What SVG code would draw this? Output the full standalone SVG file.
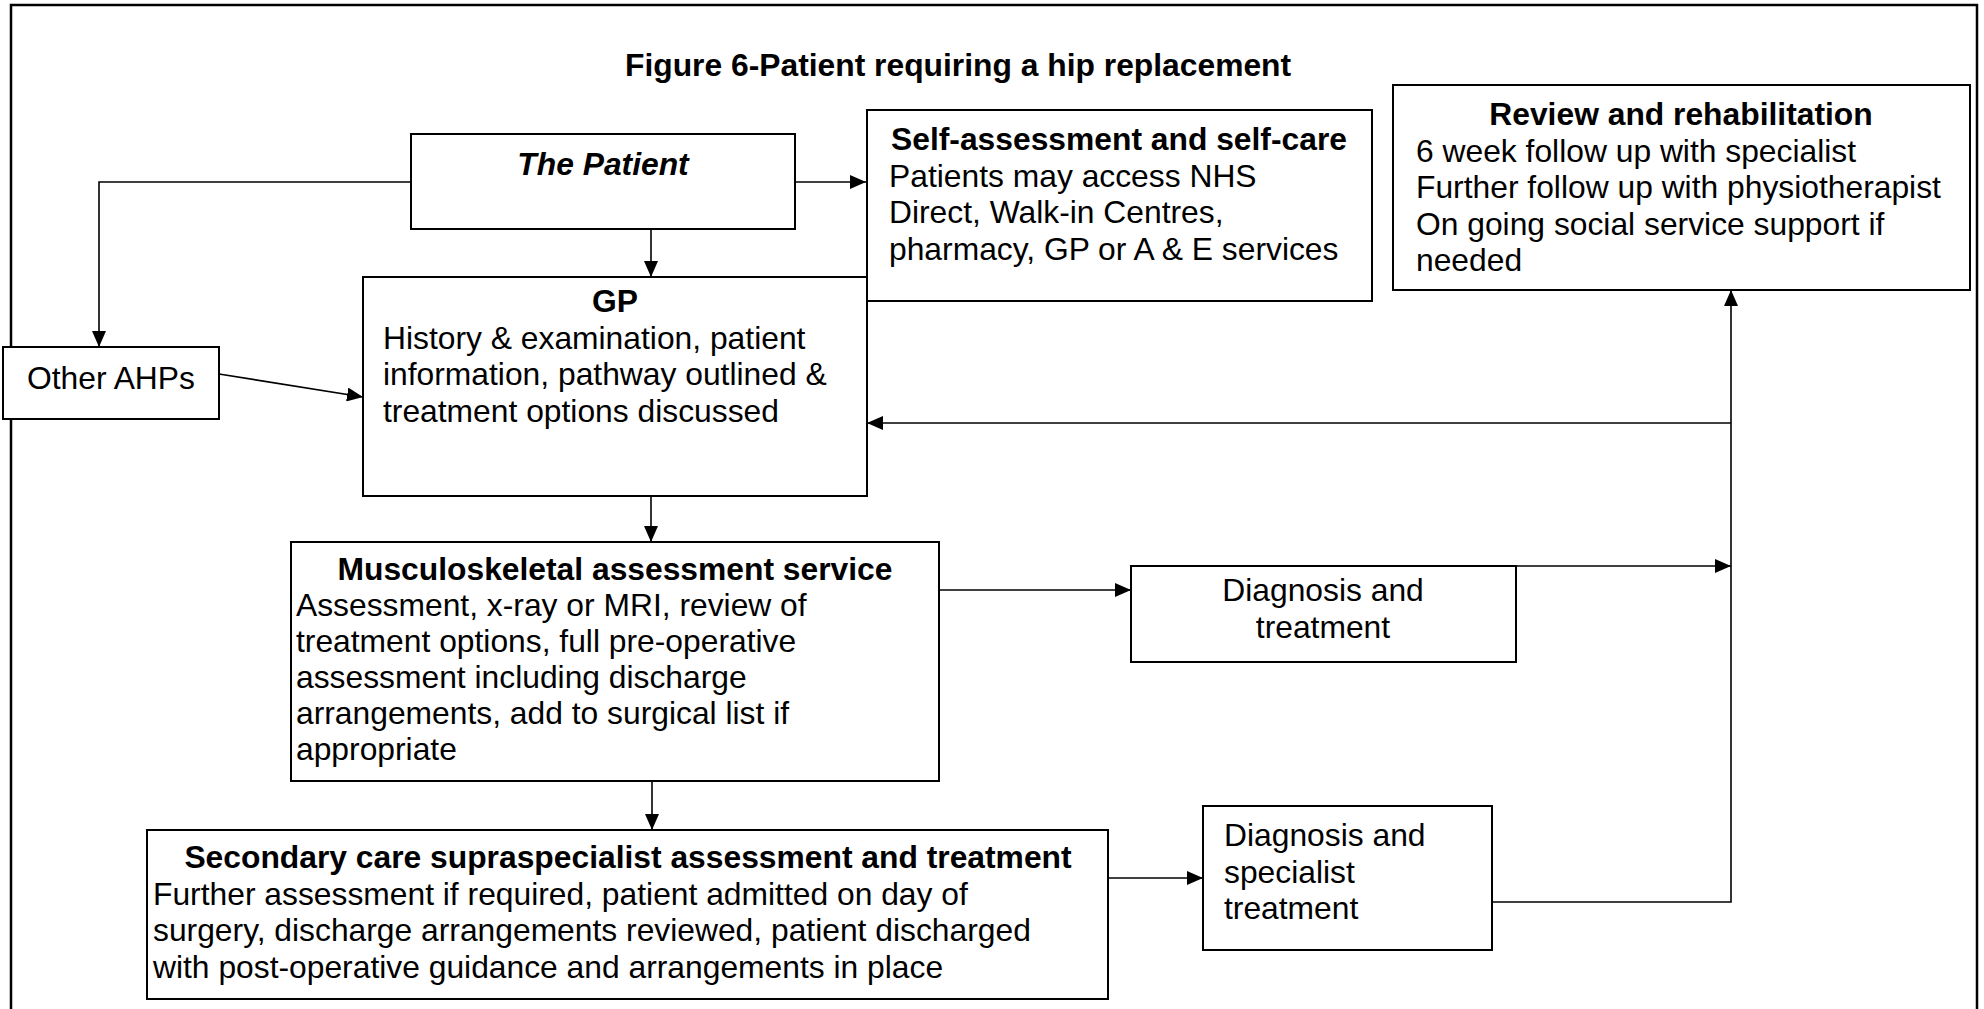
<svg xmlns="http://www.w3.org/2000/svg" width="1984" height="1009" viewBox="0 0 1984 1009">
  <style>
    text { font-family: "Liberation Sans", Arial, sans-serif; font-size: 31.8px; fill: #000; }
    .b { font-weight: bold; }
    .bi { font-weight: bold; font-style: italic; }
    .c { text-anchor: middle; }
    .box { fill: #fff; stroke: #000; stroke-width: 2; }
    .frame { fill: none; stroke: #000; stroke-width: 2.5; }
    .conn { fill: none; stroke: #000; stroke-width: 1.6; }
  </style>
  <defs>
    <marker id="arrow" markerUnits="userSpaceOnUse" markerWidth="16" markerHeight="14" refX="16" refY="7" orient="auto">
      <path d="M0,0 L16,7 L0,14 z" fill="#000"/>
    </marker>
  </defs>
  <rect width="1984" height="1009" fill="#fff"/>
  <rect class="frame" x="11" y="5" width="1966" height="1015"/>
  <text class="b" x="625" y="76">Figure 6-Patient requiring a hip replacement</text>

  <g id="connectors">
    <line class="conn" x1="795" y1="182" x2="866" y2="182" marker-end="url(#arrow)"/>
    <polyline class="conn" points="411,182 99,182 99,347" marker-end="url(#arrow)"/>
    <line class="conn" x1="651" y1="229" x2="651" y2="277" marker-end="url(#arrow)"/>
    <line class="conn" x1="219" y1="374" x2="363" y2="397" marker-end="url(#arrow)"/>
    <line class="conn" x1="651" y1="496" x2="651" y2="542" marker-end="url(#arrow)"/>
    <line class="conn" x1="939" y1="590" x2="1131" y2="590" marker-end="url(#arrow)"/>
    <line class="conn" x1="1516" y1="566" x2="1731" y2="566" marker-end="url(#arrow)"/>
    <polyline class="conn" points="1492,902 1731,902 1731,290" marker-end="url(#arrow)"/>
    <line class="conn" x1="1731" y1="423" x2="867" y2="423" marker-end="url(#arrow)"/>
    <line class="conn" x1="652" y1="781" x2="652" y2="830" marker-end="url(#arrow)"/>
    <line class="conn" x1="1108" y1="878" x2="1203" y2="878" marker-end="url(#arrow)"/>
  </g>

  <g id="patient">
    <rect class="box" x="411" y="134" width="384" height="95"/>
    <text class="bi c" x="603" y="175">The Patient</text>
  </g>

  <g id="self-assessment">
    <rect class="box" x="867" y="110" width="505" height="191"/>
    <text class="b c" x="1119" y="150">Self-assessment and self-care</text>
    <text x="889" y="186.6">Patients may access NHS</text>
    <text x="889" y="223.2">Direct, Walk-in Centres,</text>
    <text x="889" y="259.8">pharmacy, GP or A &amp; E services</text>
  </g>

  <g id="review">
    <rect class="box" x="1393" y="85" width="577" height="205"/>
    <text class="b c" x="1681" y="125">Review and rehabilitation</text>
    <text x="1416" y="161.6">6 week follow up with specialist</text>
    <text x="1416" y="198.2">Further follow up with physiotherapist</text>
    <text x="1416" y="234.8">On going social service support if</text>
    <text x="1416" y="271.4">needed</text>
  </g>

  <g id="gp">
    <rect class="box" x="363" y="277" width="504" height="219"/>
    <text class="b c" x="615" y="312">GP</text>
    <text x="383" y="348.6">History &amp; examination, patient</text>
    <text x="383" y="385.2">information, pathway outlined &amp;</text>
    <text x="383" y="421.8">treatment options discussed</text>
  </g>

  <g id="other-ahps">
    <rect class="box" x="3" y="347" width="216" height="72"/>
    <text class="c" x="111" y="389">Other AHPs</text>
  </g>

  <g id="msk">
    <rect class="box" x="291" y="542" width="648" height="239"/>
    <text class="b c" x="615" y="580">Musculoskeletal assessment service</text>
    <text x="296" y="616">Assessment, x-ray or MRI, review of</text>
    <text x="296" y="652">treatment options, full pre-operative</text>
    <text x="296" y="688">assessment including discharge</text>
    <text x="296" y="724">arrangements, add to surgical list if</text>
    <text x="296" y="760">appropriate</text>
  </g>

  <g id="diagnosis-treatment">
    <rect class="box" x="1131" y="566" width="385" height="96"/>
    <text class="c" x="1323" y="601">Diagnosis and</text>
    <text class="c" x="1323" y="637.6">treatment</text>
  </g>

  <g id="secondary-care">
    <rect class="box" x="147" y="830" width="961" height="169"/>
    <text class="b c" x="628" y="868">Secondary care supraspecialist assessment and treatment</text>
    <text x="153" y="904.6">Further assessment if required, patient admitted on day of</text>
    <text x="153" y="941.2">surgery, discharge arrangements reviewed, patient discharged</text>
    <text x="153" y="977.8">with post-operative guidance and arrangements in place</text>
  </g>

  <g id="diagnosis-specialist">
    <rect class="box" x="1203" y="806" width="289" height="144"/>
    <text x="1224" y="846">Diagnosis and</text>
    <text x="1224" y="882.6">specialist</text>
    <text x="1224" y="919.2">treatment</text>
  </g>
</svg>
